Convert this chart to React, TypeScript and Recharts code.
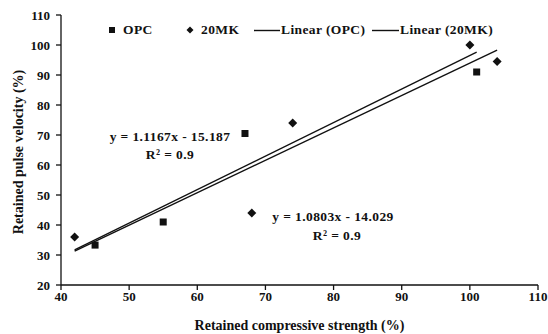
import {
  ScatterChart,
  Scatter,
  XAxis,
  YAxis,
  ZAxis,
  ReferenceLine,
} from 'recharts';

const xTicks = [40, 50, 60, 70, 80, 90, 100, 110];
const yTicks = [20, 30, 40, 50, 60, 70, 80, 90, 100, 110];

// measured points (retained compressive strength %, retained pulse velocity %)
const opcPoints = [
  { x: 45, y: 33.3 },
  { x: 55, y: 41 },
  { x: 67, y: 70.5 },
  { x: 101, y: 91 },
];
const mkPoints = [
  { x: 42, y: 36 },
  { x: 68, y: 44 },
  { x: 74, y: 74 },
  { x: 100, y: 100 },
  { x: 104, y: 94.5 },
];

// linear trendline end points
const opcTrend = [
  { x: 42, y: 31.7 },
  { x: 101, y: 97.6 },
];
const mkTrend = [
  { x: 42, y: 31.3 },
  { x: 104, y: 98.3 },
];

const FONT = '"Liberation Serif", "DejaVu Serif", serif';
const INK = '#111';

const tickStyle = { fontFamily: FONT, fontSize: 13, fontWeight: 700, fill: INK };
const titleStyle = { fontFamily: FONT, fontSize: 14, fontWeight: 700, fill: INK };

function YTitle() {
  return (
    <text
      x={18}
      y={152}
      transform="rotate(-90, 18, 152)"
      textAnchor="middle"
      dominantBaseline="central"
      style={titleStyle}
    >
      Retained pulse velocity (%)
    </text>
  );
}

function Overlay({ left, top, children, center }: any) {
  return (
    <div
      style={{
        position: 'absolute',
        left,
        top,
        transform: center ? 'translate(-50%, -50%)' : 'translateY(-50%)',
        fontFamily: FONT,
        fontSize: 13.5,
        fontWeight: 700,
        letterSpacing: 0.4,
        color: INK,
        whiteSpace: 'nowrap',
        lineHeight: 1,
      }}
    >
      {children}
    </div>
  );
}

// small markers drawn at the point the scale gives
function SquareMark({ cx, cy }: any) {
  return <rect x={cx - 3.5} y={cy - 3.5} width={7} height={7} fill={INK} />;
}
function DiamondMark({ cx, cy }: any) {
  return (
    <polygon
      points={`${cx},${cy - 4.5} ${cx + 4.5},${cy} ${cx},${cy + 4.5} ${cx - 4.5},${cy}`}
      fill={INK}
    />
  );
}

export default function App() {
  return (
    <div style={{ position: 'absolute', left: 0, top: 0, width: 548, height: 334, background: '#fff' }}>
      <ScatterChart width={548} height={334} margin={{ top: 15, right: 10, bottom: 0, left: 0 }}>
        <XAxis
          type="number"
          dataKey="x"
          domain={[40, 110]}
          ticks={xTicks}
          allowDataOverflow
          stroke={INK}
          strokeWidth={1.3}
          tickSize={5}
          tickMargin={2}
          height={49}
          tick={tickStyle}
          label={{
            value: 'Retained compressive strength (%)',
            position: 'insideBottom',
            offset: 4,
            style: titleStyle,
          }}
        />
        <XAxis
          xAxisId="top"
          orientation="top"
          type="number"
          dataKey="x"
          domain={[40, 110]}
          ticks={xTicks}
          height={0}
          tick={false}
          tickLine={false}
          stroke={INK}
          strokeWidth={1.3}
        />
        <YAxis
          type="number"
          dataKey="y"
          domain={[20, 110]}
          ticks={yTicks}
          allowDataOverflow
          stroke={INK}
          strokeWidth={1.3}
          tickSize={5}
          tickMargin={6}
          width={61}
          tick={tickStyle}
          label={<YTitle />}
        />
        <YAxis
          yAxisId="right"
          orientation="right"
          type="number"
          dataKey="y"
          domain={[20, 110]}
          width={0}
          tick={false}
          tickLine={false}
          stroke={INK}
          strokeWidth={2}
        />
        <ZAxis range={[28, 28]} />
        <ReferenceLine segment={opcTrend} stroke={INK} strokeWidth={1.4} ifOverflow="visible" />
        <ReferenceLine segment={mkTrend} stroke={INK} strokeWidth={1.4} ifOverflow="visible" />
        <Scatter name="OPC" data={opcPoints} shape={<SquareMark />} fill={INK} isAnimationActive={false} />
        <Scatter name="20MK" data={mkPoints} shape={<DiamondMark />} fill={INK} isAnimationActive={false} />
      </ScatterChart>

      {/* legend */}
      <svg style={{ position: 'absolute', left: 108, top: 26 }} width={8} height={8}>
        <rect x={1} y={1} width={6} height={6} fill={INK} />
      </svg>
      <Overlay left={123} top={30}>OPC</Overlay>
      <svg style={{ position: 'absolute', left: 186, top: 26 }} width={8} height={8}>
        <polygon points="4,0.5 7.5,4 4,7.5 0.5,4" fill={INK} />
      </svg>
      <Overlay left={201} top={30}>20MK</Overlay>
      <svg style={{ position: 'absolute', left: 254, top: 29 }} width={26} height={3}>
        <line x1={0} y1={1.5} x2={26} y2={1.5} stroke={INK} strokeWidth={1.4} />
      </svg>
      <Overlay left={281} top={30}>Linear (OPC)</Overlay>
      <svg style={{ position: 'absolute', left: 372, top: 29 }} width={27} height={3}>
        <line x1={0} y1={1.5} x2={27} y2={1.5} stroke={INK} strokeWidth={1.4} />
      </svg>
      <Overlay left={400} top={30}>Linear (20MK)</Overlay>

      {/* trendline equations */}
      <Overlay left={170} top={137} center>y = 1.1167x - 15.187</Overlay>
      <Overlay left={170} top={155} center>R² = 0.9</Overlay>
      <Overlay left={333} top={217} center>y = 1.0803x - 14.029</Overlay>
      <Overlay left={337} top={236} center>R² = 0.9</Overlay>
    </div>
  );
}
